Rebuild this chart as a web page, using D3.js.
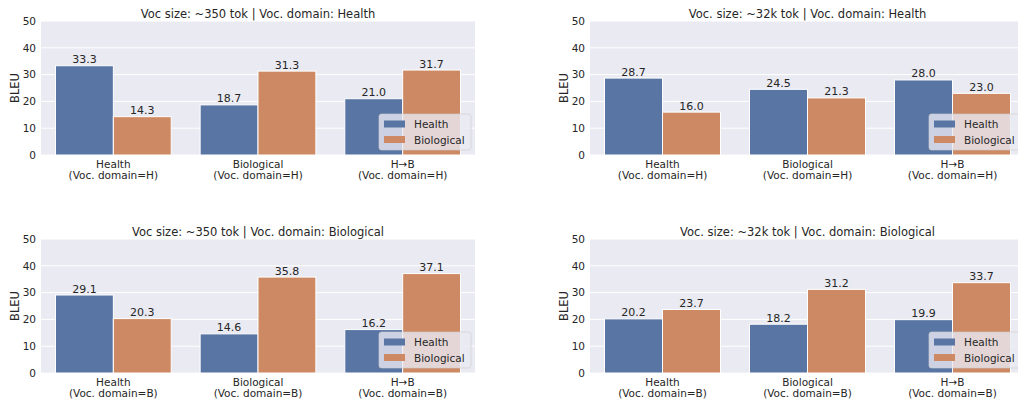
<!DOCTYPE html>
<html>
<head>
<meta charset="utf-8">
<script src="https://cdn.jsdelivr.net/npm/d3@7"></script>
<style>
  html, body { margin: 0; padding: 0; background: #ffffff; }
  svg { display: block; font-family: "DejaVu Sans", sans-serif; }
</style>
</head>
<body>
<svg id="chart" width="1018" height="400"></svg>
<script>
// Evaluation settings (x axis) and training domains (bar series)
const categories = ["Health", "Biological", "H\u2192B"];
const series = ["Health", "Biological"];
const yTicks = [0, 10, 20, 30, 40, 50];

// BLEU scores per panel: [Health, Biological] for each category
const titles = [
  "Voc size: ~350 tok | Voc. domain: Health",
  "Voc. size: ~32k tok | Voc. domain: Health",
  "Voc size: ~350 tok | Voc. domain: Biological",
  "Voc. size: ~32k tok | Voc. domain: Biological"
];
const vocDomain = ["H", "H", "B", "B"];
const healthScores = [
  [33.3, 18.7, 21.0],
  [28.7, 24.5, 28.0],
  [29.1, 14.6, 16.2],
  [20.2, 18.2, 19.9]
];
const biologicalScores = [
  [14.3, 31.3, 31.7],
  [16.0, 21.3, 23.0],
  [20.3, 35.8, 37.1],
  [23.7, 31.2, 33.7]
];

const colors = { Health: "#5875a4", Biological: "#cc8963" };
const textColor = "#262626";

const svg = d3.select("#chart");

// Panel frames: left, right, top, bottom
const frames = [
  { x0: 41, x1: 475, y0: 21, y1: 155 },
  { x0: 590, x1: 1025, y0: 21, y1: 155 },
  { x0: 41, x1: 475, y0: 239, y1: 373 },
  { x0: 590, x1: 1025, y0: 239, y1: 373 }
];

frames.forEach((f, p) => {
  const g = svg.append("g");

  const x = d3.scaleBand().domain(categories).range([f.x0, f.x1])
    .paddingInner(0.2).paddingOuter(0.1);
  const xs = d3.scaleBand().domain(series).range([0, x.bandwidth()]);
  const y = d3.scaleLinear().domain([0, 50]).range([f.y1, f.y0]);

  // background
  g.append("rect").attr("x", f.x0).attr("y", f.y0)
    .attr("width", f.x1 - f.x0).attr("height", f.y1 - f.y0)
    .attr("fill", "#eaeaf2");

  // grid
  g.selectAll("line.grid").data(yTicks).join("line")
    .attr("x1", f.x0).attr("x2", f.x1)
    .attr("y1", d => y(d)).attr("y2", d => y(d))
    .attr("stroke", "#ffffff").attr("stroke-width", 1);

  // y axis
  const yAxis = g.append("g").attr("transform", `translate(${f.x0},0)`)
    .call(d3.axisLeft(y).tickValues(yTicks).tickSize(0).tickPadding(5));
  yAxis.select(".domain").remove();
  yAxis.selectAll("text").attr("fill", textColor)
    .style("font-size", "10.5px").style("font-family", "DejaVu Sans");

  // x axis with two-line labels
  const xAxis = g.append("g").attr("transform", `translate(0,${f.y1})`)
    .call(d3.axisBottom(x).tickSize(0).tickPadding(0).tickFormat(""));
  xAxis.select(".domain").remove();
  xAxis.selectAll(".tick").each(function (d) {
    const t = d3.select(this).append("text")
      .attr("fill", textColor).attr("text-anchor", "middle")
      .style("font-size", "10.5px").style("font-family", "DejaVu Sans");
    t.append("tspan").attr("x", 0).attr("y", 12.5).text(d);
    t.append("tspan").attr("x", 0).attr("y", 24).text(`(Voc. domain=${vocDomain[p]})`);
  });

  // bars
  const rows = categories.map((c, i) => ({
    cat: c,
    vals: [
      { s: "Health", v: healthScores[p][i] },
      { s: "Biological", v: biologicalScores[p][i] }
    ]
  }));
  const grp = g.selectAll("g.cat").data(rows).join("g")
    .attr("transform", d => `translate(${x(d.cat)},0)`);
  grp.selectAll("rect").data(d => d.vals).join("rect")
    .attr("x", d => xs(d.s)).attr("width", xs.bandwidth())
    .attr("y", d => y(d.v)).attr("height", d => y(0) - y(d.v))
    .attr("fill", d => colors[d.s])
    .attr("stroke", "#ffffff").attr("stroke-width", 1);
  grp.selectAll("text").data(d => d.vals).join("text")
    .attr("x", d => xs(d.s) + xs.bandwidth() / 2)
    .attr("y", d => y(d.v) - 2.5)
    .attr("text-anchor", "middle").attr("fill", textColor)
    .style("font-size", "11px")
    .text(d => d.v.toFixed(1));

  // title
  g.append("text").attr("x", (f.x0 + f.x1) / 2).attr("y", f.y0 - 3.5)
    .attr("text-anchor", "middle").attr("fill", textColor)
    .style("font-size", "11.5px").text(titles[p]);

  // y label
  g.append("text")
    .attr("transform", `translate(${f.x0 - 22},${(f.y0 + f.y1) / 2}) rotate(-90)`)
    .attr("text-anchor", "middle").attr("fill", textColor)
    .style("font-size", "11.5px").text("BLEU");

  // legend (lower right)
  const lw = 92, lh = 36;
  const lx = f.x1 - 4 - lw, ly = f.y1 - 5 - lh;
  const lg = g.append("g").attr("transform", `translate(${lx},${ly})`);
  lg.append("rect").attr("width", lw).attr("height", lh).attr("rx", 2.5)
    .attr("fill", "#eaeaf2").attr("fill-opacity", 0.8)
    .attr("stroke", "#cccccc").attr("stroke-opacity", 0.8).attr("stroke-width", 0.8);
  series.forEach((s, i) => {
    lg.append("rect").attr("x", 5).attr("y", 6.5 + i * 15.5)
      .attr("width", 21).attr("height", 7)
      .attr("fill", colors[s]);
    lg.append("text").attr("x", 35).attr("y", 14 + i * 15.5)
      .attr("fill", textColor).style("font-size", "10.5px").text(s);
  });
});
</script>
</body>
</html>
